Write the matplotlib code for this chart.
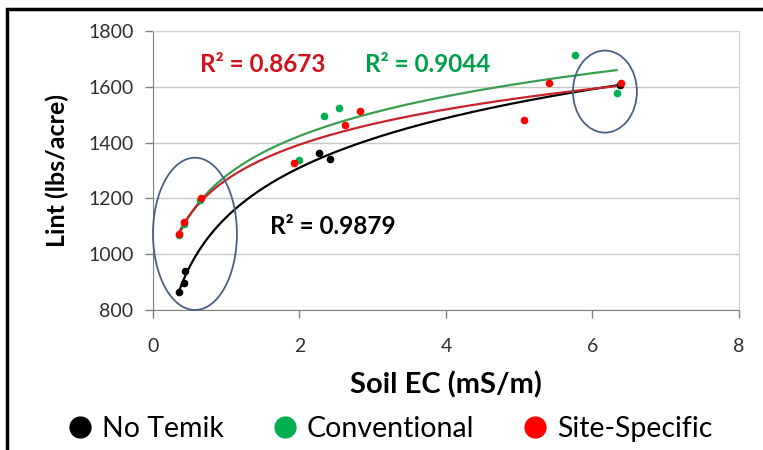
import numpy as np
import matplotlib.pyplot as plt
from matplotlib.patches import Ellipse, Rectangle
from matplotlib.lines import Line2D

plt.rcParams['font.family'] = ['Lato', 'DejaVu Sans']

# data (Soil EC, Lint)
no_temik_x = [0.36, 0.42, 0.44, 2.27, 2.41, 6.38]
no_temik_y = [864, 898, 940, 1362, 1342, 1605]

# first two green points sit under the red ones
conv_x = [0.36, 0.43, 0.64, 1.99, 2.34, 2.54, 5.76, 6.33]
conv_y = [1068, 1110, 1195, 1337, 1497, 1523, 1715, 1577]

site_x = [0.36, 0.43, 0.65, 1.93, 2.62, 2.82, 5.06, 5.40, 6.39]
site_y = [1072, 1115, 1202, 1328, 1464, 1515, 1481, 1613, 1615]

r2_labels = ["R² = 0.9879", "R² = 0.9044", "R² = 0.8673"]

series = [
    ("No Temik", no_temik_x, no_temik_y, "black", "black"),
    ("Conventional", conv_x, conv_y, "#00B050", "#3A9E4E"),
    ("Site-Specific", site_x, site_y, "#FF0000", "#C8222A"),
]

fig = plt.figure(figsize=(7.63, 4.5), dpi=100)
ax = fig.add_axes([0.2005, 0.311, 0.768, 0.62])

# log trendlines like the spreadsheet
for name, xs, ys, mc, lc in series:
    a, b = np.polyfit(np.log(xs), ys, 1)
    xx = np.linspace(min(xs), max(xs), 200)
    ax.plot(xx, a * np.log(xx) + b, color=lc, lw=1.6, zorder=2)
for name, xs, ys, mc, lc in series:
    ax.plot(xs, ys, 'o', color=mc, ms=4.5, zorder=3)

ax.text(0.64, 1680, r2_labels[2], color="#D0121B", fontsize=17.5, fontweight='bold', va='center')
ax.text(2.89, 1680, r2_labels[1], color="#00A04A", fontsize=17.5, fontweight='bold', va='center')
ax.text(1.60, 1100, r2_labels[0], color="black", fontsize=17.5, fontweight='bold', va='center')

ax.add_patch(Ellipse((0.573, 1073), 1.146, 546, fill=False, ec="#4A6082", lw=1.3, clip_on=False, zorder=4))
ax.add_patch(Ellipse((6.17, 1583), 0.873, 294, fill=False, ec="#4A6082", lw=1.3, clip_on=False, zorder=4))

ax.set_xlim(0, 8)
ax.set_ylim(800, 1800)
ax.set_xticks([0, 2, 4, 6, 8])
ax.set_yticks([800, 1000, 1200, 1400, 1600, 1800])
ax.yaxis.grid(True, color="#C8C8C8", lw=1)
ax.set_axisbelow(True)
for s in ['top', 'right']:
    ax.spines[s].set_color("#D0D0D0")
for s in ['left', 'bottom']:
    ax.spines[s].set_color("#808080")
ax.tick_params(axis='both', labelsize=14, colors="#808080", labelcolor="#303030", length=6, width=1)
ax.tick_params(axis='x', pad=14)
ax.tick_params(axis='y', pad=8)
ax.set_xlabel("Soil EC (mS/m)", fontsize=21, fontweight='bold', labelpad=12)
ax.set_ylabel("Lint (lbs/acre)", fontsize=18, fontweight='bold', labelpad=14)

handles = [Line2D([], [], ls='none', marker='o', color=mc, ms=15) for _, _, _, mc, _ in series]
fig.legend(handles, [s[0] for s in series], loc='center', bbox_to_anchor=(0.51, 0.046),
           ncol=3, frameon=False, fontsize=20.5, handletextpad=0.27, columnspacing=1.65,
           handlelength=1.0)

fig.add_artist(Rectangle((0.009, -0.1), 1.5, 0.08 + 1.0, transform=fig.transFigure,
                         fill=False, ec="black", lw=2.5))

fig.savefig("out.png", dpi=100)
